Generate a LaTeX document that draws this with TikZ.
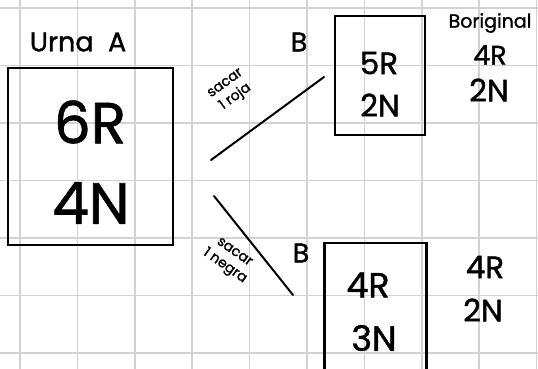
\documentclass[tikz,border=0pt]{standalone}
\usepackage{fontspec}
\setmainfont{Poppins}[FakeBold=1.2]

\tikzset{
  gridline/.style={draw=gray!35, line width=1.6pt},
  urn/.style={draw, line width=2.2pt, inner sep=0pt},
  stroke/.style={line width=2pt, line cap=round},
  big/.style={font=\fontsize{58}{60}\selectfont},
  mid/.style={font=\fontsize{31}{34}\selectfont},
  small/.style={font=\fontsize{27}{30}\selectfont},
  tiny/.style={font=\fontsize{14}{17}\selectfont, align=center, inner sep=0pt},
}

\begin{document}
\begin{tikzpicture}[x=1pt,y=-1pt]
  \useasboundingbox (0,0) rectangle (538,369);
  \fill[white] (0,0) rectangle (538,369);
  \clip (0,0) rectangle (538,369);
  % squared paper
  \foreach \i in {0,...,9}
    \draw[gridline] ({20+57.4*\i},0) -- ({20+57.4*\i},369);
  \foreach \j in {0,...,6}
    \draw[gridline] (0,{8.3+57.4*\j}) -- (538,{8.3+57.4*\j});

  % urns
  \node[urn, minimum width=165, minimum height=177] (A) at (90.5,156.5) {};
  \node[urn, minimum width=90, minimum height=119] (B1) at (380,75.5) {};
  \node[urn, minimum width=102, minimum height=160] (B2) at (375.5,323) {};

  \node[small] (lA) at (78,42) {Urna\ \ A};
  \node[big] (A1) at (90,122) {6R};
  \node[big] (A2) at (91,203) {4N};

  \node[small] (lB1) at (299,42) {B};
  \node[mid] (B11) at (379,63) {5R};
  \node[mid] (B12) at (380,105) {2N};

  \node[font=\fontsize{19}{19}\selectfont] (orig) at (490,23) {Boriginal};
  \node[font=\fontsize{27}{27}\selectfont] (o1) at (490,55) {4R};
  \node[mid] (o2) at (489,90) {2N};

  \node[small] (lB2) at (301,253) {B};
  \node[font=\fontsize{35}{35}\selectfont] (B21) at (368,285) {4R};
  \node[font=\fontsize{35}{35}\selectfont] (B22) at (374,338) {3N};

  \node[mid] (r1) at (485,267) {4R};
  \node[mid] (r2) at (483,310) {2N};

  % draws
  \coordinate (s1) at (211,160);
  \coordinate (e1) at (324,77);
  \coordinate (s2) at (214,196);
  \coordinate (e2) at (293,295);
  \draw[stroke] (s1) -- (e1);
  \draw[stroke] (s2) -- (e2);
  \node[tiny, rotate=36] (t1) at (231,91) {sacar\\1 roja};
  \node[tiny, rotate=-35] (t2) at (229,260) {sacar\\1 negra};
\end{tikzpicture}
\end{document}
